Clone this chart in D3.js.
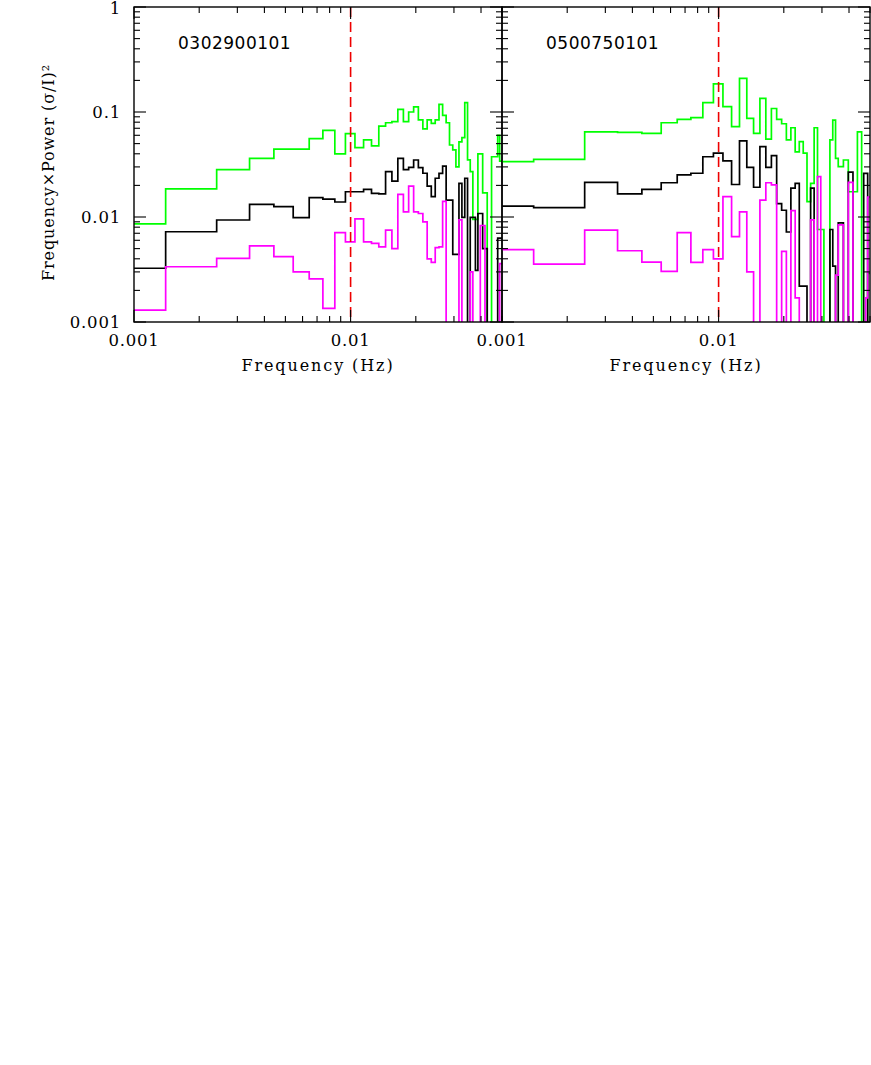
<!DOCTYPE html>
<html>
<head>
<meta charset="utf-8">
<script src="https://cdn.jsdelivr.net/npm/d3@7"></script>
<style>
    body { margin: 0; background: #ffffff; }
    .tick-label { font-family: "DejaVu Serif", serif; font-size: 16.5px; letter-spacing: 0.8px; fill: #000; }
    .axis-title { font-family: "DejaVu Serif", serif; font-size: 16px; letter-spacing: 1.9px; fill: #000; }
    .y-title { letter-spacing: 0.9px; }
    .obs-label { font-family: "DejaVu Sans", sans-serif; font-size: 17px; letter-spacing: 0.5px; fill: #000; }
</style>
</head>
<body>
<div id="chart"></div>
<script>

// Frequency bin edges (Hz), shared by both observations
const binEdges = [0.000392, 0.001400, 0.002408, 0.003416, 0.004424, 0.005432, 0.006440, 0.007448,
    0.008456, 0.009464, 0.010472, 0.011480, 0.012488, 0.013496, 0.014504, 0.015512, 0.016520,
    0.017528, 0.018536, 0.019544, 0.020552, 0.021560, 0.022568, 0.023576, 0.024584, 0.025592,
    0.026600, 0.027608, 0.028616, 0.029624, 0.030632, 0.031640, 0.032648, 0.033656, 0.034664,
    0.035672, 0.036680, 0.037688, 0.038696, 0.039704, 0.040712, 0.041720, 0.042728, 0.043736,
    0.044744, 0.045752, 0.046760, 0.047768, 0.048776, 0.049784, 0.050792];

const obsIds = ["0302900101", "0500750101"];

// null = bin below the plotted range
const green0302 = [0.0086, 0.0185, 0.0282, 0.0362, 0.0444, 0.0444, 0.0557, 0.0669, 0.040, 0.0622,
    0.0457, 0.0542, 0.0475, 0.0735, 0.079, 0.081, 0.106, 0.081, 0.100, 0.112,
    0.084, 0.069, 0.084, 0.078, 0.084, 0.118, 0.093, 0.079, 0.0485, 0.0435,
    0.030, 0.052, 0.057, 0.123, 0.035, 0.027, 0.0095, 0.0095, 0.040, 0.040,
    0.017, 0.017, null, null, 0.0375, 0.0375, 0.0375, 0.060, 0.034, 0.034];
const black0302 = [0.00325, 0.00724, 0.00936, 0.0132, 0.01254, 0.00986, 0.01528, 0.0148, 0.0139, 0.0174,
    0.0174, 0.0183, 0.0168, 0.0166, 0.027, 0.022, 0.0362, 0.0283, 0.0297, 0.0349,
    0.0295, 0.0261, 0.0197, 0.0156, 0.0234, 0.026, 0.0305, 0.0145, 0.0145, 0.0044,
    0.0044, 0.0209, 0.0099, 0.0234, null, 0.0099, 0.0099, 0.0031, 0.0108, 0.0108,
    0.0050, 0.0050, null, null, null, null, null, 0.0063, 0.0063, 0.0063];
const magenta0302 = [0.0013, 0.00336, 0.00404, 0.0053, 0.0042, 0.0030, 0.00257, 0.00135, 0.0071, 0.0058,
    0.0096, 0.0058, 0.0056, 0.0052, 0.0075, 0.0050, 0.0164, 0.0112, 0.0197, 0.0112,
    0.0108, 0.0090, 0.0040, 0.0037, 0.0051, 0.0052, 0.0141, null, null, null,
    null, 0.0094, null, null, null, 0.0030, null, null, null, 0.0083,
    0.0083, null, null, null, null, null, null, null, 0.0036, 0.0036];

const green0500 = [0.0337, 0.0354, 0.0648, 0.0641, 0.0626, 0.079, 0.0852, 0.0884, 0.123, 0.185,
    0.1125, 0.0726, 0.209, 0.087, 0.0626, 0.135, 0.0552, 0.108, 0.0852, 0.0773,
    0.0542, 0.0708, 0.0418, 0.0522, 0.0405, 0.0140, 0.0209, 0.0708, 0.0076, 0.0076,
    null, null, 0.0542, 0.0838, 0.0362, 0.0302, 0.0302, 0.0349, 0.0349, 0.0174,
    0.0174, 0.0174, 0.0174, 0.0648, 0.0648, null, null, null, 0.0029, 0.0029];
const black0500 = [0.0127, 0.0123, 0.0214, 0.0166, 0.0183, 0.0212, 0.0252, 0.0261, 0.0375, 0.0405,
    0.0343, 0.0204, 0.053, 0.0297, 0.0192, 0.0467, 0.0297, 0.0384, 0.0134, 0.0116,
    0.0072, 0.0188, 0.0209, 0.0022, 0.0022, null, 0.0188, null, null, null,
    null, null, 0.0076, 0.0034, null, 0.0088, 0.0088, null, null, 0.0267,
    0.0267, null, null, null, null, null, 0.026, 0.026, null, null];
const magenta0500 = [0.0049, 0.00356, 0.0075, 0.00477, 0.00372, 0.00304, 0.0071, 0.0037, 0.0049, 0.0040,
    0.0156, 0.0065, 0.0112, 0.0030, null, 0.0145, 0.0212, 0.0202, null, 0.0047,
    null, 0.0115, 0.0017, null, null, null, 0.0094, null, 0.0242, null,
    null, null, null, null, 0.0028, 0.0084, 0.0084, null, null, 0.0214,
    0.0214, null, null, null, null, null, null, 0.0017, 0.0155, 0.0155];

const xDomain = [0.001, 0.05];
const yDomain = [0.001, 1];
const xMajorTicks = [0.001, 0.01];
const xMinorTicks = [0.002, 0.003, 0.004, 0.005, 0.006, 0.007, 0.008, 0.009, 0.02, 0.03, 0.04, 0.05];
const yMajorTicks = [0.001, 0.01, 0.1, 1];
const yMinorTicks = [0.002, 0.003, 0.004, 0.005, 0.006, 0.007, 0.008, 0.009,
    0.02, 0.03, 0.04, 0.05, 0.06, 0.07, 0.08, 0.09,
    0.2, 0.3, 0.4, 0.5, 0.6, 0.7, 0.8, 0.9];
const markerFreq = 0.01;

const colors = {
    'green': '#00ff00',
    'black': '#000000',
    'magenta': '#ff00ff',
    'red': '#ee0000'
};

const svg = d3.select("#chart").append("svg")
    .attr("width", 871)
    .attr("height", 1065);

const margin = {top: 7, left: 134};
const panelW = 368, panelH = 315;

const x = d3.scaleLog().domain(xDomain).range([0, panelW]);
const y = d3.scaleLog().domain(yDomain).range([panelH, 0]);

const stepLine = d3.line()
    .x(d => x(d.f))
    .y(d => d.v === null ? panelH + 20 : y(d.v))
    .curve(d3.curveStepAfter);

function binPoints(values) {
    let pts = values.map((v, i) => ({f: binEdges[i], v: v}));
    pts.push({f: binEdges[values.length], v: values[values.length - 1]});
    return pts;
}

function drawPanel(idx, series, label) {
    let g = svg.append("g")
        .attr("transform", "translate(" + (margin.left + idx * panelW) + "," + margin.top + ")");

    g.append("clipPath").attr("id", "clip" + idx)
        .append("rect").attr("width", panelW).attr("height", panelH);

    let plot = g.append("g").attr("clip-path", "url(#clip" + idx + ")");

    series.forEach(s => {
        plot.append("path")
            .attr("d", stepLine(binPoints(s.values)))
            .attr("fill", "none")
            .attr("stroke", s.color)
            .attr("stroke-width", 1.7);
    });

    // dashed marker line
    plot.append("line")
        .attr("x1", x(markerFreq)).attr("x2", x(markerFreq))
        .attr("y1", 0).attr("y2", panelH)
        .attr("stroke", colors.red)
        .attr("stroke-width", 1.6)
        .attr("stroke-dasharray", "10,5");

    // ticks on all four sides, pointing inward
    let tickG = g.append("g").attr("stroke", "#000").attr("stroke-width", 1.1);
    let xTicks = xMajorTicks.map(t => ({t: t, len: 12})).concat(xMinorTicks.map(t => ({t: t, len: 6})));
    let yTicks = yMajorTicks.map(t => ({t: t, len: 12})).concat(yMinorTicks.map(t => ({t: t, len: 6})));

    xTicks.forEach(d => {
        tickG.append("line").attr("x1", x(d.t)).attr("x2", x(d.t)).attr("y1", panelH).attr("y2", panelH - d.len);
        tickG.append("line").attr("x1", x(d.t)).attr("x2", x(d.t)).attr("y1", 0).attr("y2", d.len);
    });
    yTicks.forEach(d => {
        tickG.append("line").attr("x1", 0).attr("x2", d.len).attr("y1", y(d.t)).attr("y2", y(d.t));
        tickG.append("line").attr("x1", panelW).attr("x2", panelW - d.len).attr("y1", y(d.t)).attr("y2", y(d.t));
    });

    g.append("rect")
        .attr("width", panelW).attr("height", panelH)
        .attr("fill", "none")
        .attr("stroke", "#000")
        .attr("stroke-width", 1.4);

    // x tick labels
    g.selectAll(".x-label")
        .data(xMajorTicks)
        .enter().append("text")
        .attr("class", "tick-label")
        .attr("x", d => x(d))
        .attr("y", panelH + 24)
        .attr("text-anchor", "middle")
        .text(d => d3.format("")(d));

    g.append("text")
        .attr("class", "axis-title")
        .attr("x", panelW / 2)
        .attr("y", panelH + 49)
        .attr("text-anchor", "middle")
        .text("Frequency (Hz)");

    g.append("text")
        .attr("class", "obs-label")
        .attr("x", 44)
        .attr("y", 42)
        .text(label);

    return g;
}

let left = drawPanel(0, [
    {values: green0302, color: colors.green},
    {values: black0302, color: colors.black},
    {values: magenta0302, color: colors.magenta}
], obsIds[0]);

drawPanel(1, [
    {values: green0500, color: colors.green},
    {values: black0500, color: colors.black},
    {values: magenta0500, color: colors.magenta}
], obsIds[1]);

// y tick labels only on the left panel
left.selectAll(".y-label")
    .data(yMajorTicks)
    .enter().append("text")
    .attr("class", "tick-label")
    .attr("x", -13)
    .attr("y", d => Math.max(y(d) + 5.5, 7))
    .attr("text-anchor", "end")
    .text(d => d3.format("")(d));

left.append("text")
    .attr("class", "axis-title y-title")
    .attr("transform", "translate(-80," + (panelH / 2 + 8) + ") rotate(-90)")
    .attr("text-anchor", "middle")
    .text("Frequency×Power (σ/I)²");

</script>
</body>
</html>
